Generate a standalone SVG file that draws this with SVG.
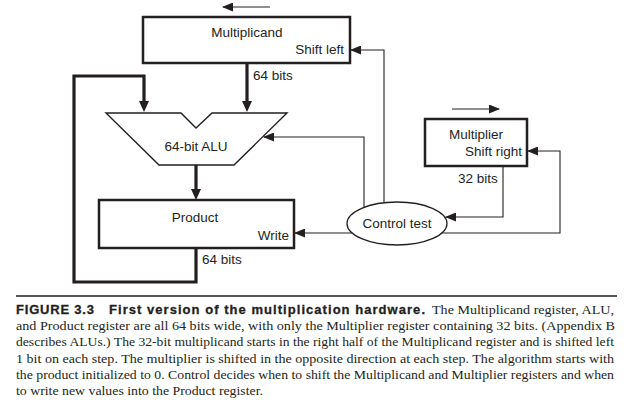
<svg xmlns="http://www.w3.org/2000/svg" width="624" height="402" viewBox="0 0 624 402">
<style>
.bg{fill:#fff}
.box{fill:#fff;stroke:#231f20;stroke-width:2.5}
.alu{fill:#fff;stroke:#231f20;stroke-width:1.4;stroke-linejoin:miter}
.ell{fill:#fff;stroke:#231f20;stroke-width:1.3}
.thin{fill:none;stroke:#231f20;stroke-width:1.1}
.thick{fill:none;stroke:#231f20;stroke-width:3.2;stroke-linejoin:miter}
.lbl{font-family:"Liberation Sans",Arial,sans-serif;font-size:13.5px;fill:#231f20}
.mid{text-anchor:middle}
.end{text-anchor:end}
.cap{font-family:"Liberation Serif","Times New Roman",serif;font-size:13.5px;fill:#231f20}
.capb{font-family:"Liberation Sans",Arial,sans-serif;font-size:13px;font-weight:bold;fill:#231f20;stroke:#231f20;stroke-width:0.3}
</style>
<defs>
<marker id="ah" markerUnits="userSpaceOnUse" markerWidth="11" markerHeight="9" viewBox="0 0 11 9" refX="10" refY="4.5" orient="auto">
<path d="M0,0 L11,4.5 L0,9 z" fill="#231f20"/>
</marker>
<marker id="ahT" markerUnits="userSpaceOnUse" markerWidth="11" markerHeight="10" viewBox="0 0 11 10" refX="7" refY="5" orient="auto">
<path d="M0,0 L11,5 L0,10 z" fill="#231f20"/>
</marker>
</defs>
<rect class="bg" x="0" y="0" width="624" height="402"/>

<g id="connectors">
<path class="thick" d="M247,63 L247,108" marker-end="url(#ahT)"/>
<path class="thick" d="M196,248 L196,282 L74,282 L74,76 L144,76 L144,108" marker-end="url(#ahT)"/>
<path class="thick" d="M196,165 L196,196" marker-end="url(#ahT)"/>
<path class="thin" d="M352,233 L295,233" marker-end="url(#ah)"/>
<path class="thin" d="M442,233 L560,233 L560,151 L528,151" marker-end="url(#ah)"/>
<path class="thin" d="M503,166 L503,217 L446,217" marker-end="url(#ah)"/>
<path class="thin" d="M384,203 L384,50 L351,50" marker-end="url(#ah)"/>
<path class="thin" d="M364,208 L364,137 L264,137" marker-end="url(#ah)"/>
<path class="thin" d="M270,7 L223,7" marker-end="url(#ah)"/>
<path class="thin" d="M452,109 L499,109" marker-end="url(#ah)"/>
</g>

<g id="multiplicand">
<rect class="box" x="143" y="17" width="207" height="46"/>
<text class="lbl mid" x="247" y="37">Multiplicand</text>
<text class="lbl end" x="344" y="54">Shift left</text>
</g>
<text class="lbl" x="253" y="80">64 bits</text>

<g id="alu">
<polygon class="alu" points="106,113 181,113 196,128 212,113 287,113 234,165 159,165"/>
<text class="lbl mid" x="196" y="151">64-bit ALU</text>
</g>

<g id="product">
<rect class="box" x="99" y="200" width="195" height="48"/>
<text class="lbl mid" x="195" y="222">Product</text>
<text class="lbl end" x="289" y="240">Write</text>
</g>
<text class="lbl" x="202" y="264">64 bits</text>

<g id="multiplier">
<rect class="box" x="425" y="119" width="102" height="47"/>
<text class="lbl mid" x="476" y="139">Multiplier</text>
<text class="lbl end" x="522" y="156">Shift right</text>
</g>
<text class="lbl" x="458" y="183">32 bits</text>

<g id="control">
<ellipse class="ell" cx="397" cy="223.5" rx="50" ry="21.5"/>
<text class="lbl mid" x="397" y="228">Control test</text>
</g>

<g id="caption">
<line x1="16" y1="296" x2="617" y2="296" stroke="#231f20" stroke-width="1.5"/>
<text class="capb" x="16" y="314" textLength="78" lengthAdjust="spacing">FIGURE 3.3</text>
<text class="capb" x="109" y="314" textLength="316" lengthAdjust="spacing">First version of the multiplication hardware.</text>
<text class="cap" x="432" y="314" textLength="182" lengthAdjust="spacingAndGlyphs">The Multiplicand register, ALU,</text>
<text class="cap" x="16" y="330" textLength="599" lengthAdjust="spacingAndGlyphs">and Product register are all 64 bits wide, with only the Multiplier register containing 32 bits. (Appendix B</text>
<text class="cap" x="16" y="346" textLength="598" lengthAdjust="spacingAndGlyphs">describes ALUs.) The 32-bit multiplicand starts in the right half of the Multiplicand register and is shifted left</text>
<text class="cap" x="16" y="362.5" textLength="598" lengthAdjust="spacingAndGlyphs">1 bit on each step. The multiplier is shifted in the opposite direction at each step. The algorithm starts with</text>
<text class="cap" x="16" y="378.5" textLength="598" lengthAdjust="spacingAndGlyphs">the product initialized to 0. Control decides when to shift the Multiplicand and Multiplier registers and when</text>
<text class="cap" x="16" y="394.5" textLength="247" lengthAdjust="spacingAndGlyphs">to write new values into the Product register.</text>
</g>
</svg>
